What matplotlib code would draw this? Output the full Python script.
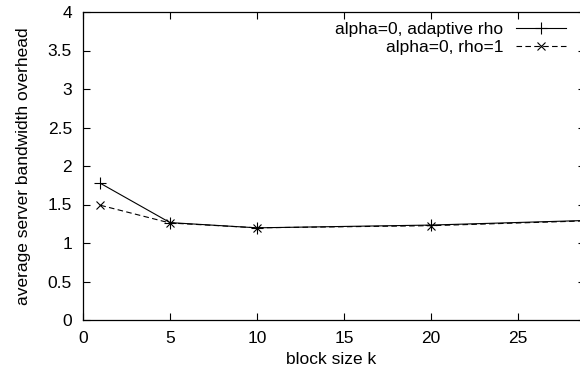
import matplotlib
matplotlib.use("Agg")
import matplotlib.pyplot as plt

# data
block_k = [1, 5, 10, 20, 30]
adaptive_rho = [1.775, 1.265, 1.197, 1.233, 1.30]
rho_one = [1.49, 1.260, 1.197, 1.225, 1.295]

x_ticks = [0, 5, 10, 15, 20, 25]
y_ticks = [0, 0.5, 1, 1.5, 2, 2.5, 3, 3.5, 4]
y_labels = ["0", "0.5", "1", "1.5", "2", "2.5", "3", "3.5", "4"]

plt.rcParams["font.family"] = ["Liberation Sans", "DejaVu Sans"]
FS = 12.5

W, H = 580, 377
fig = plt.figure(figsize=(W / 100, H / 100), dpi=100)
# axes box in pixels: left 83, right ~585 (off canvas), top 12, bottom 320
ax = fig.add_axes([83 / W, 1 - 320 / H, (585 - 83) / W, (320 - 12) / H])

ax.plot(block_k, adaptive_rho, color="black", linewidth=0.8,
        marker="+", markersize=8, markeredgewidth=0.8,
        label="alpha=0, adaptive rho")
ax.plot(block_k, rho_one, color="black", linewidth=0.8, linestyle=(0, (5, 3)),
        marker="x", markersize=6, markeredgewidth=0.8,
        label="alpha=0, rho=1")

ax.set_xlim(0, (585 - 83) / 17.4)
ax.set_ylim(0, 4)
ax.set_xticks(x_ticks)
ax.set_xticklabels([str(t) for t in x_ticks])
ax.set_yticks(y_ticks)
ax.set_yticklabels(y_labels)

ax.tick_params(direction="in", length=5, width=0.8, labelsize=FS,
               top=True, right=True, pad=8, color="black")
for s in ax.spines.values():
    s.set_linewidth(0.9)
    s.set_color("black")

ax.set_xlabel("block size k", fontsize=FS)
ax.set_ylabel("average server bandwidth overhead", fontsize=FS)
ax.xaxis.set_label_coords((331 - 83) / (585 - 83), -(352 - 320) / 308)
ax.yaxis.set_label_coords(-(83 - 31) / (585 - 83), 0.5)

leg = ax.legend(loc="upper right", bbox_to_anchor=(566 / W, 1 - 22 / H),
                bbox_transform=fig.transFigure, frameon=False,
                markerfirst=False, fontsize=FS, borderpad=0, borderaxespad=0,
                handlelength=2.9, handletextpad=0.7, labelspacing=0.15)
for t in leg.get_texts():
    t.set_ha("right")
leg._legend_box.align = "right"

fig.savefig("out.png", dpi=100)
